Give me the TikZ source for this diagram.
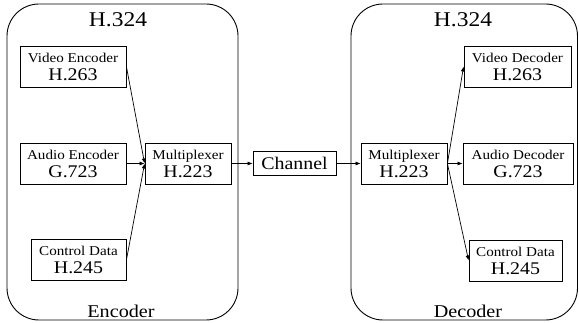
\documentclass[tikz,border=0pt]{standalone}
\usepackage{fontspec}
\setmainfont{Liberation Serif}[FakeStretch=1.12]
\usetikzlibrary{arrows.meta}
\newcommand{\toprow}[1]{{\fontsize{13.5}{14}\selectfont #1}}
\newcommand{\botrow}[1]{{\fontsize{17.8}{18}\selectfont #1}}
\tikzset{
    unit/.style={draw, line width=0.8pt, align=center, inner sep=0pt,
        minimum height=41, font=\fontsize{17.8}{18}\selectfont},
    flow/.style={-{Latex[length=5pt,width=4pt]}, line width=0.7pt},
    title/.style={font=\fontsize{21}{22}\selectfont},
    label/.style={font=\fontsize{18}{20}\selectfont}
}

\begin{document}
\begin{tikzpicture}[x=1pt,y=-1pt]
        \useasboundingbox (0,0) rectangle (579,323);

        % Draw the two terminals
        \draw[line width=0.9pt, rounded corners=32] (7,4) rectangle (238,320);
        \draw[line width=0.9pt, rounded corners=32] (351,4) rectangle (577.5,320);
        \node[title] (enctitle) at (118,20) {H.324};
        \node[title] (dectitle) at (463,20) {H.324};
        \node[label] (enclabel) at (121,311) {Encoder};
        \node[label] (declabel) at (468,311) {Decoder};

        % Encoder side
        \node[unit, minimum width=106] (venc) at (73,66.5) {\toprow{Video Encoder}\\\botrow{H.263}};
        \node[unit, minimum width=106] (aenc) at (73,163.5) {\toprow{Audio Encoder}\\\botrow{G.723}};
        \node[unit, minimum width=95] (cenc) at (78.5,260) {\toprow{Control Data}\\\botrow{H.245}};
        \node[unit, minimum width=86] (muxe) at (188,163.5) {\toprow{Multiplexer}\\\botrow{H.223}};

        % Channel
        \node[unit, minimum width=83, minimum height=24] (chan) at (294.5,163.5) {\botrow{Channel}};

        % Decoder side
        \node[unit, minimum width=86] (muxd) at (404,163.5) {\toprow{Multiplexer}\\\botrow{H.223}};
        \node[unit, minimum width=107] (vdec) at (517.5,66.5) {\toprow{Video Decoder}\\\botrow{H.263}};
        \node[unit, minimum width=110] (adec) at (518,163.5) {\toprow{Audio Decoder}\\\botrow{G.723}};
        \node[unit, minimum width=93] (cdec) at (515.5,260.5) {\toprow{Control Data}\\\botrow{H.245}};

        % Arrows
        \draw[flow] (venc.east) -- (muxe.west);
        \draw[flow] (aenc.east) -- (muxe.west);
        \draw[flow] (cenc.east) -- (muxe.west);
        \draw[flow] (muxe.east) -- (chan.west);
        \draw[flow] (chan.east) -- (muxd.west);
        \draw[flow] (muxd.east) -- (vdec.west);
        \draw[flow] (muxd.east) -- (adec.west);
        \draw[flow] (muxd.east) -- (cdec.west);
\end{tikzpicture}
\end{document}
